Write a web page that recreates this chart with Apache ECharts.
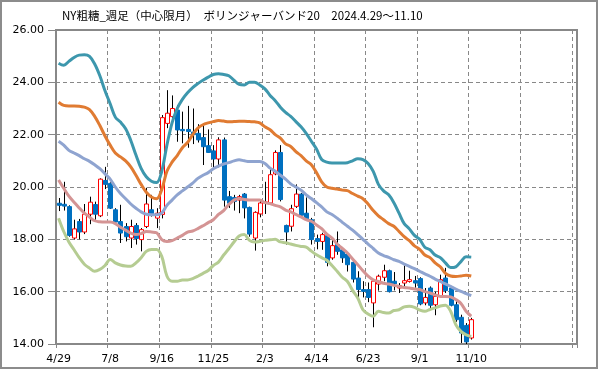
<!DOCTYPE html>
<html>
<head>
<meta charset="utf-8">
<script src="https://cdn.jsdelivr.net/npm/echarts@6/dist/echarts.min.js"></script>
<style>
html,body{margin:0;padding:0;background:#fff;}
#c{width:599px;height:370px;}
</style>
</head>
<body>
<div id="c"></div>
<script>
// Tick labels every 10 weeks (2024.4.29 ~ 2025.11.10)
var dateLabels = ['4/29','7/8','9/16','11/25','2/3','4/14','6/23','9/1','11/10'];
var totalSlots = 101;   // axis extends past the last week
var labelStep = 10;

// Weekly OHLC
var openV  = [19.38,19.34,19.25,18.05,18.68,18.28,18.96,19.33,18.90,20.25,
              20.14,19.13,18.68,18.49,18.05,18.53,17.99,18.49,19.13,18.81,
              18.95,22.43,22.69,22.94,22.20,22.20,22.10,22.05,21.89,21.58,
              21.38,21.07,21.80,19.63,19.60,19.50,19.73,19.22,18.05,18.97,
              19.39,19.39,20.50,21.32,18.53,18.50,19.26,19.73,19.00,18.75,
              18.03,17.92,18.14,17.29,17.80,17.60,17.44,17.12,16.52,16.08,
              16.08,15.57,16.29,16.55,16.80,16.40,16.14,16.33,16.39,16.42,
              16.50,15.57,16.14,15.50,15.82,16.52,16.14,15.50,15.02,14.71,
              14.23];
var closeV = [19.30,19.27,18.15,18.40,18.28,18.96,19.42,18.96,20.30,20.10,
              19.19,18.66,18.24,18.10,18.49,18.03,18.37,19.35,18.96,19.00,
              22.65,22.82,23.00,22.18,22.15,22.12,22.00,21.80,21.54,21.32,
              21.07,21.80,19.50,19.38,19.45,19.63,19.20,18.20,19.03,19.39,
              19.43,20.47,21.32,19.52,18.28,19.17,19.73,18.92,18.79,17.99,
              17.92,18.18,17.12,17.76,17.54,17.29,17.03,16.48,16.08,16.01,
              15.78,16.40,16.59,16.80,16.00,16.30,16.23,16.42,16.46,16.33,
              15.53,15.78,15.48,15.82,16.46,16.04,15.48,14.93,14.42,14.08,
              14.93];
var highV  = [19.58,20.20,19.30,18.75,18.78,19.35,19.63,19.44,20.33,20.77,
              20.18,19.19,19.32,18.62,18.75,18.62,18.43,19.97,19.70,19.19,
              22.75,23.70,23.50,23.13,22.88,23.10,23.00,22.40,22.43,22.20,
              21.60,21.90,21.89,19.85,19.70,19.70,19.77,19.25,19.07,19.48,
              20.20,20.70,21.40,21.60,18.56,19.32,20.10,19.77,19.60,18.82,
              18.18,18.25,18.18,18.05,18.30,17.67,17.50,17.20,16.78,16.40,
              16.35,16.46,16.65,17.03,16.84,16.75,16.33,17.00,16.80,16.60,
              16.55,16.14,16.20,16.00,16.65,16.91,16.20,15.63,15.12,14.80,
              15.00];
var lowV   = [19.08,19.10,18.10,17.99,18.00,18.20,18.58,18.75,18.85,19.92,
              19.16,18.56,17.86,17.92,17.67,17.80,17.54,18.43,18.87,18.43,
              18.80,22.25,22.50,21.73,21.67,21.50,21.64,21.70,20.84,21.30,
              20.75,20.75,19.25,19.20,19.10,19.00,18.80,18.10,17.57,18.84,
              18.97,19.35,20.45,19.45,17.80,18.30,19.20,18.88,18.70,17.80,
              17.62,17.60,16.97,17.22,17.41,17.10,16.77,16.35,15.76,15.78,
              15.60,14.64,16.04,16.40,15.97,16.05,15.95,16.20,16.35,16.15,
              15.48,15.48,15.30,15.10,15.76,15.95,15.44,14.85,14.04,14.00,
              14.17];

// Bollinger band (20) lines
var plus2 = [24.73,24.65,24.80,24.95,25.04,25.05,24.99,24.70,24.25,23.68,
             23.18,22.67,22.48,22.23,21.78,21.22,20.71,20.39,20.22,20.17,
             20.60,21.60,22.45,23.00,23.35,23.60,23.80,23.95,24.08,24.20,
             24.30,24.33,24.30,24.25,24.08,23.92,23.90,24.00,24.00,23.90,
             23.75,23.50,23.30,23.05,22.85,22.70,22.50,22.30,22.05,21.75,
             21.45,21.05,20.95,20.92,20.92,20.92,20.93,21.00,21.08,21.05,
             20.90,20.60,20.10,19.85,19.70,19.40,19.00,18.60,18.40,18.15,
             18.00,17.70,17.60,17.40,17.30,17.10,16.92,16.95,17.15,17.33,
             17.32];
var plus1 = [23.24,23.12,23.10,23.10,23.09,23.05,22.96,22.70,22.35,21.95,
             21.60,21.30,21.15,21.00,20.77,20.45,20.10,19.80,19.62,19.55,
             19.90,20.60,20.95,21.20,21.50,21.70,22.00,22.25,22.38,22.45,
             22.50,22.54,22.52,22.49,22.50,22.51,22.51,22.50,22.49,22.45,
             22.30,22.19,22.00,21.87,21.65,21.55,21.35,21.20,21.00,20.85,
             20.55,20.20,20.00,19.95,19.92,19.88,19.86,19.75,19.65,19.55,
             19.35,19.10,18.90,18.75,18.60,18.50,18.30,18.10,17.95,17.75,
             17.62,17.40,17.30,17.10,16.95,16.70,16.60,16.58,16.60,16.63,
             16.60];
var midV  = [21.75,21.60,21.40,21.30,21.20,21.08,20.98,20.85,20.70,20.50,
             20.30,20.00,19.75,19.55,19.35,19.19,19.05,18.96,18.94,18.94,
             19.00,19.30,19.50,19.70,19.85,20.00,20.15,20.33,20.45,20.55,
             20.70,20.80,20.88,20.93,21.00,21.04,21.00,20.97,20.97,20.97,
             20.90,20.72,20.60,20.45,20.30,20.12,20.00,19.88,19.70,19.56,
             19.40,19.24,19.05,18.95,18.81,18.65,18.50,18.35,18.18,18.00,
             17.82,17.65,17.48,17.38,17.31,17.22,17.16,17.05,16.97,16.88,
             16.78,16.68,16.59,16.48,16.39,16.30,16.20,16.10,16.01,15.93,
             15.85];
var minus1 = [20.27,19.95,19.65,19.42,19.20,19.00,18.85,18.71,18.67,18.66,
              18.66,18.60,18.46,18.35,18.24,18.18,18.22,18.30,18.28,18.25,
              17.99,17.92,17.95,18.05,18.15,18.28,18.32,18.41,18.52,18.64,
              18.75,18.95,19.10,19.33,19.50,19.56,19.52,19.50,19.50,19.50,
              19.40,19.37,19.30,19.24,19.12,19.05,18.95,18.86,18.75,18.69,
              18.55,18.41,18.20,18.05,17.82,17.65,17.48,17.25,17.03,16.80,
              16.59,16.45,16.39,16.32,16.29,16.24,16.20,16.16,16.14,16.10,
              16.08,16.00,15.95,15.88,15.82,15.82,15.80,15.70,15.55,15.25,
              15.06];
var minus2 = [18.81,18.30,17.90,17.60,17.30,17.05,16.90,16.78,16.85,17.00,
              17.23,17.10,17.02,16.98,16.97,17.10,17.30,17.54,17.61,17.61,
              17.35,16.60,16.40,16.40,16.45,16.45,16.50,16.59,16.70,16.81,
              17.00,17.13,17.40,17.64,17.90,18.13,18.18,17.96,17.90,17.92,
              17.96,17.98,18.00,17.90,17.87,17.82,17.77,17.73,17.70,17.55,
              17.41,17.30,17.20,17.00,16.78,16.55,16.39,16.05,15.76,15.31,
              15.15,15.06,15.25,15.20,15.18,15.28,15.31,15.42,15.44,15.40,
              15.30,15.25,15.32,15.38,15.45,15.48,15.25,14.74,14.48,14.35,
              14.29];

var titleText = 'NY粗糖_週足（中心限月）　ボリンジャーバンド20　2024.4.29～11.10';

// build category slots and candle table
var cats = [];
for (var i = 0; i < totalSlots; i++) {
  var k = i / labelStep;
  cats.push(i % labelStep === 0 && k < dateLabels.length ? dateLabels[k] : '');
}
var candles = openV.map(function (o, i) { return [i, o, closeV[i], lowV[i], highV[i]]; });

var gridGray = '#888888';
var showEvery = function (idx) { return idx % labelStep === 0; };

function bandSeries(name, data, color) {
  return {
    name: name, type: 'line', data: data, smooth: 0.35, symbol: 'none', z: 3,
    lineStyle: { color: color, width: 3 }
  };
}

var chart = echarts.init(document.getElementById('c'), null, { renderer: 'canvas' });
chart.setOption({
  animation: false,
  backgroundColor: '#fff',
  title: {
    text: titleText, left: 57, top: 5,
    textStyle: { fontSize: 11.5, fontWeight: 'normal', color: '#000', fontFamily: 'Noto Sans CJK JP' }
  },
  graphic: [{
    type: 'rect', shape: { x: 1, y: 1, width: 596, height: 367 },
    style: { fill: 'none', stroke: '#8c8c8c', lineWidth: 2 }, z: 100
  }],
  grid: {
    left: 56, right: 22, top: 30, bottom: 26,
    show: true, borderColor: gridGray, borderWidth: 2, backgroundColor: '#fff'
  },
  xAxis: {
    type: 'category', data: cats, boundaryGap: true,
    axisLine: { show: true, lineStyle: { color: gridGray, width: 2 } },
    axisTick: { show: true, interval: showEvery, length: 4, lineStyle: { color: gridGray } },
    axisLabel: { interval: showEvery, color: '#000', fontSize: 11, fontFamily: 'DejaVu Sans', margin: 10 },
    splitLine: { show: true, interval: showEvery, lineStyle: { color: gridGray, type: [4, 3], width: 1 } }
  },
  yAxis: {
    type: 'value', min: 14, max: 26, interval: 2,
    axisLine: { show: true, lineStyle: { color: gridGray, width: 2 } },
    axisTick: { show: true, length: 8, lineStyle: { color: gridGray } },
    axisLabel: { color: '#000', fontSize: 11, fontFamily: 'DejaVu Sans', margin: 12,
      formatter: function (v) { return v.toFixed(2); } },
    splitLine: { show: true, lineStyle: { color: gridGray, type: [4, 3], width: 1 } }
  },
  series: [
    {
      type: 'custom', name: 'candle', z: 2,
      data: candles,
      encode: { x: 0, y: [1, 2, 3, 4] },
      renderItem: function (params, api) {
        var x = api.value(0), o = api.value(1), c = api.value(2), l = api.value(3), h = api.value(4);
        var pO = api.coord([x, o]), pC = api.coord([x, c]);
        var pL = api.coord([x, l]), pH = api.coord([x, h]);
        var w = 4;
        var up = c >= o;
        var top = Math.min(pO[1], pC[1]), bot = Math.max(pO[1], pC[1]);
        var cx = Math.round(pO[0]) + 0.5;
        return {
          type: 'group',
          children: [
            { type: 'line', shape: { x1: cx, y1: pH[1], x2: cx, y2: pL[1] },
              style: { stroke: '#000', lineWidth: 1 } },
            { type: 'rect', shape: { x: cx - w / 2, y: top, width: w, height: Math.max(bot - top, 1) },
              style: up ? { fill: '#fff', stroke: '#ff0000', lineWidth: 1 }
                        : { fill: '#0070c0', stroke: '#0070c0', lineWidth: 1 } }
          ]
        };
      }
    },
    bandSeries('+2σ', plus2, '#3d97ad'),
    bandSeries('+1σ', plus1, '#e07b32'),
    bandSeries('MA20', midV, '#8fa4d0'),
    bandSeries('-1σ', minus1, '#d49494'),
    bandSeries('-2σ', minus2, '#b5cc92')
  ]
});
</script>
</body>
</html>
